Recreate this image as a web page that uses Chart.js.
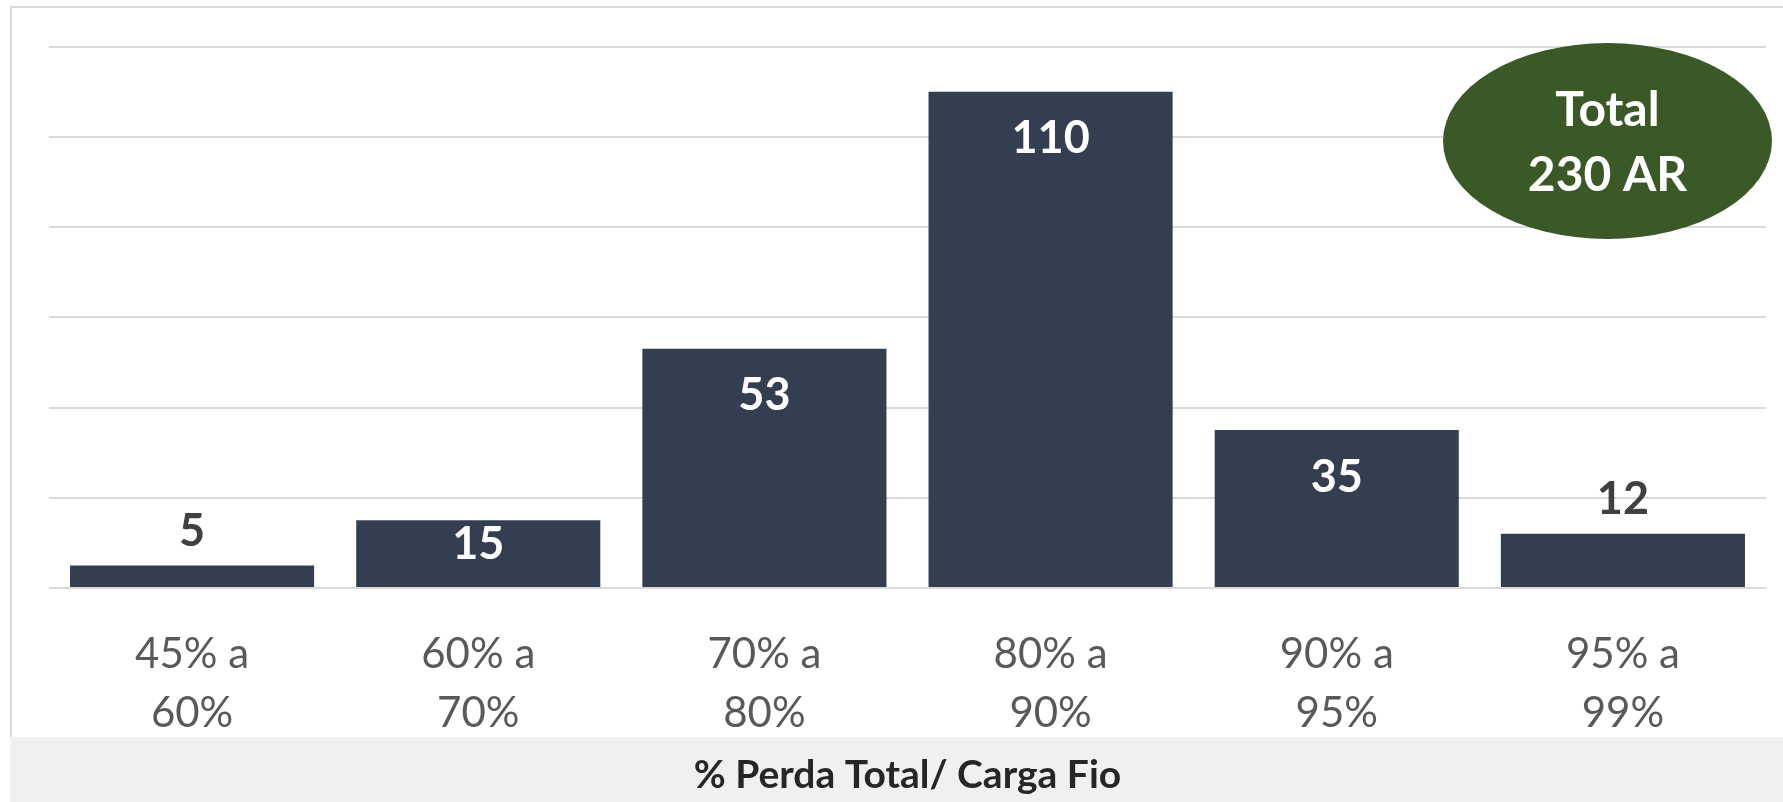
<!DOCTYPE html>
<html>
<head>
<meta charset="utf-8">
<script src="https://cdn.jsdelivr.net/npm/chart.js@4/dist/chart.umd.min.js"></script>
<style>
  html, body { margin: 0; padding: 0; background: #ffffff; }
  #wrap { position: relative; width: 1783px; height: 802px; }
</style>
</head>
<body>
<div id="wrap"><canvas id="c"></canvas></div>
<script>
// ---- Data ----
const categories = [["45% a", "60%"], ["60% a", "70%"], ["70% a", "80%"], ["80% a", "90%"], ["90% a", "95%"], ["95% a", "99%"]];
const counts = [5, 15, 53, 110, 35, 12];
const axisTitle = "% Perda Total/ Carga Fio";
const badgeLines = ["Total", "230 AR"];
const yMin = 0, yMax = 120, yStep = 20;

const FONT = "Lato, 'Open Sans', 'Noto Sans', sans-serif";

const framePlugin = {
  id: 'frame',
  beforeDraw(chart) {
    const ctx = chart.ctx;
    ctx.save();
    ctx.fillStyle = '#ffffff';
    ctx.fillRect(0, 0, chart.width, chart.height);
    ctx.strokeStyle = '#dadada';
    ctx.lineWidth = 2;
    ctx.strokeRect(11, 7, chart.width + 20, 760);
    ctx.fillStyle = '#f0f0f0';
    ctx.fillRect(10, 737, chart.width - 10, chart.height - 737);
    ctx.restore();
  }
};

const labelPlugin = {
  id: 'barLabels',
  afterDatasetsDraw(chart) {
    const ctx = chart.ctx;
    const meta = chart.getDatasetMeta(0);
    ctx.save();
    ctx.font = "bold 45px " + FONT;
    ctx.textAlign = 'center';
    ctx.textBaseline = 'middle';
    meta.data.forEach((bar, i) => {
      const v = counts[i];
      const h = bar.base - bar.y;
      let y, color;
      if (h > 100) { y = bar.y + 47; color = '#ffffff'; }
      else if (h > 60) { y = bar.y + 24; color = '#ffffff'; }
      else { y = bar.y - 34; color = '#404040'; }
      ctx.fillStyle = color;
      ctx.fillText(String(v), bar.x, y);
    });
    ctx.restore();
  }
};

const badgePlugin = {
  id: 'badge',
  afterDraw(chart) {
    const ctx = chart.ctx;
    ctx.save();
    ctx.fillStyle = '#3a5926';
    ctx.beginPath();
    ctx.ellipse(1607.5, 141, 164.5, 98, 0, 0, Math.PI * 2);
    ctx.fill();
    ctx.fillStyle = '#ffffff';
    ctx.font = "bold 48px " + FONT;
    ctx.textAlign = 'center';
    ctx.textBaseline = 'middle';
    ctx.fillText(badgeLines[0], 1607.5, 111);
    ctx.fillText(badgeLines[1], 1607.5, 176);
    ctx.restore();
  }
};

function build() {
  new Chart(document.getElementById('c'), {
    type: 'bar',
    data: {
      labels: categories,
      datasets: [{
        data: counts,
        backgroundColor: '#333f50',
        borderWidth: 0,
        barPercentage: 0.853,
        categoryPercentage: 1.0
      }]
    },
    options: {
      responsive: true,
      maintainAspectRatio: false,
      animation: false,
      events: [],
      layout: { padding: { left: 49, right: 17, top: 46.5, bottom: 0 } },
      plugins: { legend: { display: false }, tooltip: { enabled: false } },
      scales: {
        x: {
          grid: { display: false },
          border: { display: false },
          ticks: {
            color: '#595959',
            font: { family: FONT, size: 42, lineHeight: 1.4 },
            padding: 29,
            maxRotation: 0,
            autoSkip: false
          },
          title: {
            display: true,
            text: axisTitle,
            color: '#262626',
            font: { family: FONT, size: 39, weight: 'bold', lineHeight: 1.2 },
            padding: { top: 0, bottom: 3 }
          },
          afterFit(scale) { scale.height = 214; }
        },
        y: {
          min: yMin, max: yMax,
          ticks: { display: false, stepSize: yStep },
          grid: { color: '#d9d9d9', lineWidth: 2, drawTicks: false },
          border: { display: false },
          afterFit(scale) { scale.width = 0; }
        }
      }
    },
    plugins: [framePlugin, labelPlugin, badgePlugin]
  });
}

if (document.fonts && document.fonts.load) {
  Promise.all([
    document.fonts.load("40px Lato"),
    document.fonts.load("bold 40px Lato")
  ]).then(build, build);
} else {
  build();
}
</script>
</body>
</html>
